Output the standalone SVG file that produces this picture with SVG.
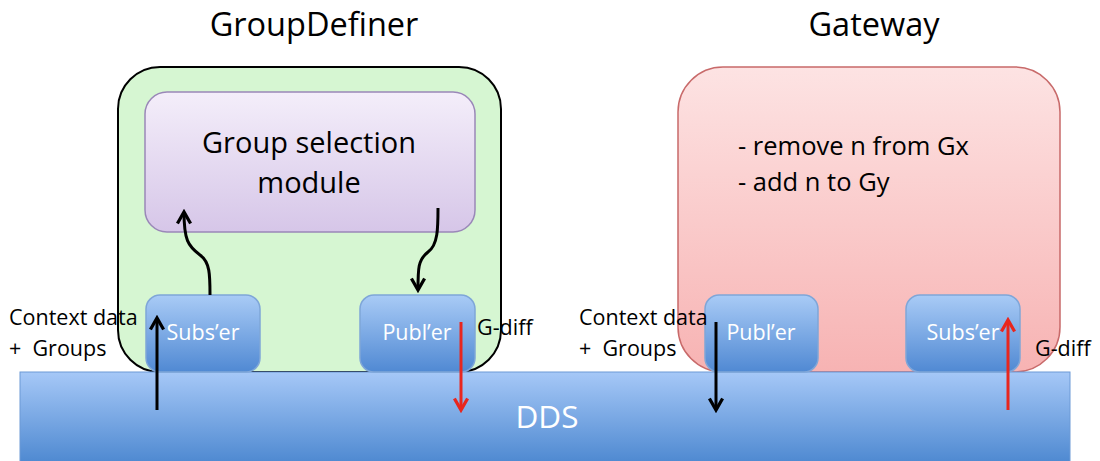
<svg xmlns="http://www.w3.org/2000/svg" width="1100" height="461" viewBox="0 0 1100 461">
<defs>
<linearGradient id="gBlue" x1="0" y1="0" x2="0" y2="1">
<stop offset="0" stop-color="#a9cbf6"/>
<stop offset="1" stop-color="#5089d3"/>
</linearGradient>
<linearGradient id="gDDS" x1="0" y1="0" x2="0" y2="1">
<stop offset="0" stop-color="#a6c8f7"/>
<stop offset="1" stop-color="#4a86cf"/>
</linearGradient>
<linearGradient id="gPurple" x1="0" y1="0" x2="0" y2="1">
<stop offset="0" stop-color="#f4eefa"/>
<stop offset="1" stop-color="#d6c6e8"/>
</linearGradient>
<linearGradient id="gPink" x1="0" y1="0" x2="0" y2="1">
<stop offset="0" stop-color="#fde3e3"/>
<stop offset="1" stop-color="#f7b3b3"/>
</linearGradient>
<marker id="ahB" viewBox="0 0 10 10" refX="8" refY="5" markerWidth="5.5" markerHeight="5.5" orient="auto" markerUnits="strokeWidth">
<path d="M1,1 L8,5 L1,9" fill="none" stroke="#000" stroke-width="2"/>
</marker>
<marker id="ahR" viewBox="0 0 10 10" refX="8" refY="5" markerWidth="5.5" markerHeight="5.5" orient="auto" markerUnits="strokeWidth">
<path d="M1,1 L8,5 L1,9" fill="none" stroke="#e8261e" stroke-width="2"/>
</marker>
</defs>
<style>
text{font-family:"Open Sans","Liberation Sans",sans-serif;}
.title{font-size:32.5px;fill:#000;text-anchor:middle;}
.lbl{font-size:21.5px;fill:#000;white-space:pre;}
.sub{fill:url(#gBlue);stroke:#7fa6d8;stroke-width:1.5;}
.subt{font-size:21.5px;fill:#fff;text-anchor:middle;}
.blk{fill:none;stroke:#000;stroke-width:3;marker-end:url(#ahB);}
.red{fill:none;stroke:#e8261e;stroke-width:3;marker-end:url(#ahR);}
</style>
<rect width="1100" height="461" fill="#fff"/>
<text class="title" x="314" y="36">GroupDefiner</text>
<text class="title" x="874" y="36">Gateway</text>
<g id="groupdefiner">
<rect x="118" y="67" width="383" height="305" rx="42" fill="#d6f6d2" stroke="#000" stroke-width="2"/>
</g>
<g id="gateway">
<rect x="678" y="67" width="382" height="305" rx="45" fill="url(#gPink)" stroke="#c86a6a" stroke-width="1.5"/>
<text x="738" y="155" font-size="25.5" fill="#000">- remove n from Gx</text>
<text x="738" y="191" font-size="25.5" fill="#000">- add n to Gy</text>
</g>
<g id="group-selection">
<rect x="145" y="92" width="330" height="140" rx="22" fill="url(#gPurple)" stroke="#9a88b8" stroke-width="1.5"/>
<text x="309" y="153" font-size="29" fill="#000" text-anchor="middle">Group selection</text>
<text x="309" y="193" font-size="29" fill="#000" text-anchor="middle">module</text>
</g>
<g id="dds">
<rect x="20" y="372" width="1050" height="95" fill="url(#gDDS)" stroke="#6c9ad6" stroke-width="1"/>
<text x="547" y="428" font-size="31.5" fill="#fff" text-anchor="middle">DDS</text>
</g>
<g id="gd-subser">
<rect class="sub" x="146" y="295" width="114" height="77" rx="14"/>
<text class="subt" x="203" y="340">Subs’er</text>
</g>
<g id="gd-publer">
<rect class="sub" x="360" y="295" width="115" height="77" rx="14"/>
<text class="subt" x="417" y="340">Publ’er</text>
</g>
<g id="gw-publer">
<rect class="sub" x="705" y="295" width="113" height="77" rx="14"/>
<text class="subt" x="761" y="340">Publ’er</text>
</g>
<g id="gw-subser">
<rect class="sub" x="906" y="295" width="114" height="77" rx="14"/>
<text class="subt" x="963" y="340">Subs’er</text>
</g>
<g id="labels">
<text class="lbl" x="9" y="325">Context data</text>
<text class="lbl" x="9" y="356">+  Groups</text>
<text class="lbl" x="579" y="325">Context data</text>
<text class="lbl" x="579" y="356">+  Groups</text>
<text class="lbl" x="477" y="335">G-diff</text>
<text class="lbl" x="1035" y="356">G-diff</text>
</g>
<g id="connectors">
<path class="blk" d="M210,295 C210,275 210,262 200,255 C188,246 184,240 184,212"/>
<path class="blk" d="M438,208 C438,228 438,245 428,252 C418,260 418,268 418,290"/>
<path class="blk" d="M157,410 L157,318"/>
<path class="red" d="M461,322 L461,410"/>
<path class="blk" d="M716,322 L716,410"/>
<path class="red" d="M1008,410 L1008,320"/>
</g>
</svg>
